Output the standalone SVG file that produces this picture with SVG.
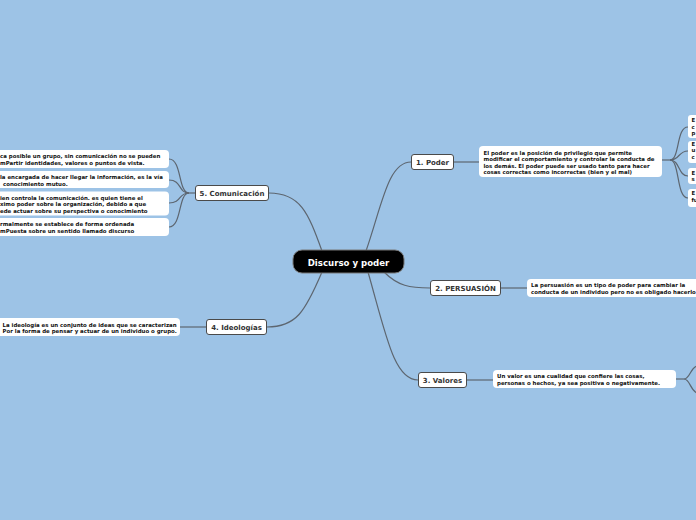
<svg xmlns="http://www.w3.org/2000/svg" width="696" height="520" viewBox="0 0 696 520">
<style>
.bg{fill:#9DC3E6}
.node rect{fill:#ffffff;stroke:#4a4a4a;stroke-width:1}
.node text{font-family:"DejaVu Sans",Verdana,sans-serif;font-weight:bold;font-size:7px;fill:#333;text-anchor:middle}
.tb rect{fill:#ffffff;stroke:none}
.tb text{font-family:"DejaVu Sans",Verdana,sans-serif;font-weight:bold;font-size:5.45px;fill:#111}
.conn path{fill:none;stroke:#5d6670;stroke-width:1.2}
</style>
<rect class="bg" x="0" y="0" width="696" height="520"/>
<g class="conn">
<path d="M366 251 C382 205 388 162 411 162"/>
<path d="M322 251 C308 212 300 193 269 193"/>
<path d="M322 272 C305 312 296 327 267 327"/>
<path d="M384 272 C398 286 410 288 430 288"/>
<path d="M368 272 C386 335 394 380 418 380"/>
<path d="M453 162 L479 162"/>
<path d="M662 160 L670 160"/>
<path d="M670 160 C680 160 676 127 688 127"/>
<path d="M670 160 C680 160 678 151 688 151"/>
<path d="M670 160 C680 160 678 176 688 176"/>
<path d="M670 160 C680 160 676 198 688 198"/>
<path d="M500 288 L527 288"/>
<path d="M467 380 L493 380"/>
<path d="M676 379 L684 379"/>
<path d="M684 379 C690 379 690 368 697 366"/>
<path d="M684 379 C690 379 690 390 697 393"/>
<path d="M206 327 L180 327"/>
<path d="M195 193 L189 193"/>
<path d="M189 193 C178 193 182 159 169 159"/>
<path d="M189 193 C178 193 182 180 169 180"/>
<path d="M189 193 C178 193 182 203 169 203"/>
<path d="M189 193 C178 193 182 227 169 227"/>
</g>
<g id="center">
<rect x="293" y="250" width="111" height="23" rx="9" fill="#000" stroke="#777" stroke-width="1"/>
<text x="348.5" y="265.5" font-family="DejaVu Sans,Verdana,sans-serif" font-weight="bold" font-size="8.6" fill="#fff" text-anchor="middle">Discurso y poder</text>
</g>
<g id="n1" class="node">
<rect x="411.5" y="154.5" width="42" height="15" rx="2.5"/>
<text x="432.5" y="164.5">1. Poder</text>
</g>
<g id="n1t" class="tb">
<rect x="479" y="146" width="183" height="31" rx="4"/>
<text x="483.5" y="154.5">El poder es la posición de privilegio que permite</text>
<text x="483.5" y="161">modificar el comportamiento y controlar la conducta de</text>
<text x="483.5" y="167.5">los demás. El poder puede ser usado tanto para hacer</text>
<text x="483.5" y="174">cosas correctas como incorrectas (bien y el mal)</text>
</g>
<g id="n1a" class="tb">
<rect x="688" y="115" width="20" height="23" rx="3"/>
<text x="691.5" y="122">E</text>
<text x="691.5" y="128.5">c</text>
<text x="691.5" y="135">p</text>
</g>
<g id="n1b" class="tb">
<rect x="688" y="141" width="20" height="22" rx="3"/>
<text x="691.5" y="146">E</text>
<text x="691.5" y="152">u</text>
<text x="691.5" y="158.5">c</text>
</g>
<g id="n1c" class="tb">
<rect x="688" y="168" width="20" height="16" rx="3"/>
<text x="691.5" y="175">E</text>
<text x="691.5" y="181">s</text>
</g>
<g id="n1d" class="tb">
<rect x="688" y="189" width="20" height="18" rx="3"/>
<text x="691.5" y="195">E</text>
<text x="691.5" y="201.5">fu</text>
</g>
<g id="n2" class="node">
<rect x="430.5" y="280.5" width="70" height="15" rx="2.5"/>
<text x="465.5" y="290.5">2. PERSUASIÓN</text>
</g>
<g id="n2t" class="tb">
<rect x="527" y="279" width="180" height="18" rx="4"/>
<text x="531" y="286.5">La persuasión es un tipo de poder para cambiar la</text>
<text x="531" y="293.5">conducta de un individuo pero no es obligado hacerlo</text>
</g>
<g id="n3" class="node">
<rect x="418.5" y="372.5" width="48" height="15" rx="2.5"/>
<text x="442.5" y="382.5">3. Valores</text>
</g>
<g id="n3t" class="tb">
<rect x="493" y="370" width="183" height="18" rx="4"/>
<text x="497" y="378">Un valor es una cualidad que confiere las cosas,</text>
<text x="497" y="385">personas o hechos, ya sea positiva o negativamente.</text>
</g>
<g id="n4" class="node">
<rect x="206.5" y="319.5" width="60" height="15" rx="2.5"/>
<text x="236.5" y="329.5">4. Ideologías</text>
</g>
<g id="n4t" class="tb">
<rect x="-20" y="318" width="200" height="18" rx="4"/>
<text x="2.5" y="326.5">La ideología es un conjunto de ideas que se caracterizan</text>
<text x="2.5" y="333">Por la forma de pensar y actuar de un individuo o grupo.</text>
</g>
<g id="n5" class="node">
<rect x="195.5" y="185.5" width="73" height="15" rx="2.5"/>
<text x="232" y="195.5">5. Comunicación</text>
</g>
<g id="n5a" class="tb">
<rect x="-20" y="150" width="189" height="18" rx="4"/>
<text x="0" y="158">ca posible un grupo, sin comunicación no se pueden</text>
<text x="0" y="165">mPartir identidades, valores o puntos de vista.</text>
</g>
<g id="n5b" class="tb">
<rect x="-20" y="171" width="189" height="17" rx="4"/>
<text x="0" y="179">la encargada de hacer llegar la información, es la vía</text>
<text x="3" y="185.5">conocimiento mutuo.</text>
</g>
<g id="n5c" class="tb">
<rect x="-20" y="191.5" width="189" height="24" rx="4"/>
<text x="0" y="199.5">ien controla la comunicación. es quien tiene el</text>
<text x="0" y="206">ximo poder sobre la organización, debido a que</text>
<text x="0" y="212.5">ede actuar sobre su perspectiva o conocimiento</text>
</g>
<g id="n5d" class="tb">
<rect x="-20" y="218" width="189" height="18" rx="4"/>
<text x="0" y="226">rmalmente se establece de forma ordenada</text>
<text x="0" y="232.5">mPuesta sobre un sentido llamado discurso</text>
</g>
</svg>
